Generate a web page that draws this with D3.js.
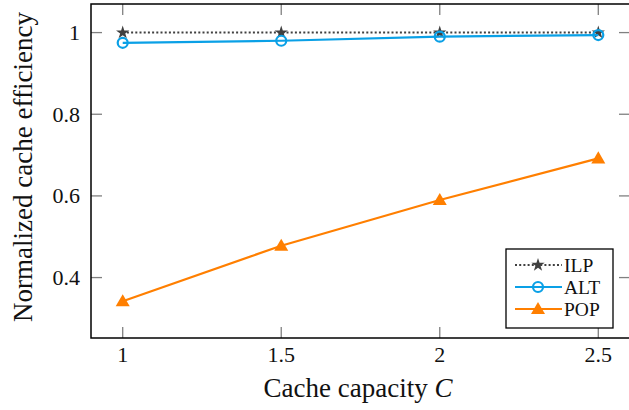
<!DOCTYPE html>
<html>
<head>
<meta charset="utf-8">
<script src="https://cdn.jsdelivr.net/npm/d3@7.9.0/dist/d3.min.js"></script>
<style>
  body { margin: 0; background: #fff; }
  svg { display: block; }
  svg text { font-family: "Liberation Serif", "Times New Roman", Times, serif; fill: #111; }
</style>
</head>
<body>
<svg id="chart"></svg>
<script>
const capacity = [1, 1.5, 2, 2.5];
const ilp = [1, 1, 1, 1];
const alt = [0.975, 0.98, 0.99, 0.994];
const pop = [0.342, 0.478, 0.59, 0.692];
const xTicks = [1, 1.5, 2, 2.5];
const yTicks = [0.4, 0.6, 0.8, 1];

const svgWidth = 629;
const svgHeight = 410;
const box = { left: 91, right: 630, top: 4, bottom: 338 };

const svg = d3.select("#chart")
    .attr("width", svgWidth)
    .attr("height", svgHeight);

const x = d3.scaleLinear().domain([0.9, 2.6]).range([box.left, box.right]);
const y = d3.scaleLinear().domain([0.252, 1.07]).range([box.bottom, box.top]);

const tickColor = "#808080";

// ticks on all four sides, pointing inward
xTicks.forEach(t => {
    svg.append("line").attr("x1", x(t)).attr("x2", x(t)).attr("y1", box.bottom).attr("y2", box.bottom - 11)
        .attr("stroke", tickColor).attr("stroke-width", 1.3);
    svg.append("line").attr("x1", x(t)).attr("x2", x(t)).attr("y1", box.top).attr("y2", box.top + 11)
        .attr("stroke", tickColor).attr("stroke-width", 1.3);
    svg.append("text").attr("x", x(t)).attr("y", 362).attr("text-anchor", "middle")
        .style("font-size", "22px").text(d3.format("")(t));
});
yTicks.forEach(t => {
    svg.append("line").attr("x1", box.left).attr("x2", box.left + 11).attr("y1", y(t)).attr("y2", y(t))
        .attr("stroke", tickColor).attr("stroke-width", 1.3);
    svg.append("line").attr("x1", box.right - 11).attr("x2", box.right).attr("y1", y(t)).attr("y2", y(t))
        .attr("stroke", tickColor).attr("stroke-width", 1.3);
    svg.append("text").attr("x", box.left - 11).attr("y", y(t)).attr("dy", "0.33em").attr("text-anchor", "end")
        .style("font-size", "22px").text(d3.format("")(t));
});

const series = [
    { name: "ILP", values: ilp, color: "#404040", dash: "2 2.2", marker: "star" },
    { name: "ALT", values: alt, color: "#0aa0e6", dash: null, marker: "circle" },
    { name: "POP", values: pop, color: "#ff7f00", dash: null, marker: "triangle" }
];

const line = d3.line().x(d => x(d[0])).y(d => y(d[1]));

function drawMarker(g, kind, cx, cy, color) {
    if (kind === "circle") {
        g.append("circle").attr("cx", cx).attr("cy", cy).attr("r", 5)
            .attr("fill", "none").attr("stroke", color).attr("stroke-width", 2.2);
    } else if (kind === "triangle") {
        g.append("path").attr("d", d3.symbol().type(d3.symbolTriangle).size(85)())
            .attr("transform", `translate(${cx},${cy + 1})`).attr("fill", color);
    } else {
        g.append("path").attr("d", d3.symbol().type(d3.symbolStar).size(55)())
            .attr("transform", `translate(${cx},${cy})`).attr("fill", color);
    }
}

const plot = svg.append("g");
series.forEach(s => {
    const pts = capacity.map((c, i) => [c, s.values[i]]);
    plot.append("path").datum(pts).attr("d", line)
        .attr("fill", "none").attr("stroke", s.color)
        .attr("stroke-width", s.dash ? 2 : 2.2)
        .attr("stroke-dasharray", s.dash);
    pts.forEach(p => drawMarker(plot, s.marker, x(p[0]), y(p[1]), s.color));
});

// frame
svg.append("rect").attr("x", box.left).attr("y", box.top)
    .attr("width", box.right - box.left).attr("height", box.bottom - box.top)
    .attr("fill", "none").attr("stroke", "#000").attr("stroke-width", 1.5);

// legend
const legend = svg.append("g").attr("transform", "translate(506, 249)");
legend.append("rect").attr("width", 107).attr("height", 79)
    .attr("fill", "#fff").attr("stroke", "#000").attr("stroke-width", 1.3);
series.forEach((s, i) => {
    const ly = 16 + i * 22;
    legend.append("line").attr("x1", 9).attr("x2", 56).attr("y1", ly).attr("y2", ly)
        .attr("stroke", s.color).attr("stroke-width", s.dash ? 2 : 2.2)
        .attr("stroke-dasharray", s.dash);
    drawMarker(legend, s.marker, 32, ly, s.color);
    legend.append("text").attr("x", 58).attr("y", ly).attr("dy", "0.34em")
        .style("font-size", "19.5px").text(s.name);
});

// axis titles
svg.append("text").attr("x", 358).attr("y", 397).attr("text-anchor", "middle")
    .style("font-size", "27px")
    .html('Cache capacity <tspan font-style="italic">C</tspan>');

svg.append("text").attr("transform", "rotate(-90)")
    .attr("x", -167).attr("y", 32).attr("text-anchor", "middle")
    .style("font-size", "27px").text("Normalized cache efficiency");
</script>
</body>
</html>
